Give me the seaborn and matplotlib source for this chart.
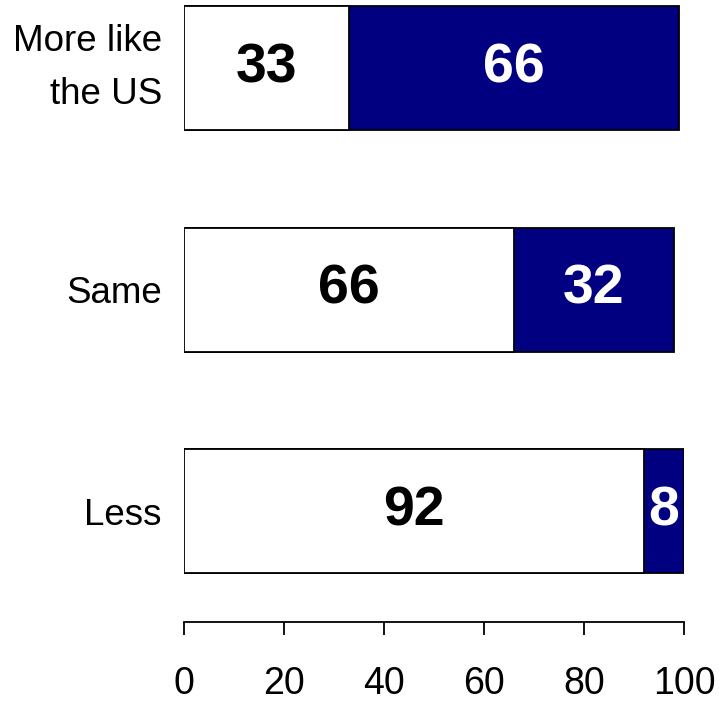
import numpy as np
import pandas as pd
import matplotlib
matplotlib.use("Agg")
import matplotlib.pyplot as plt
from matplotlib import font_manager
import seaborn as sns

categories = ["More like\nthe US", "Same", "Less"]
first_part = [33, 66, 92]
second_part = [66, 32, 8]

sns.set_style("white")
plt.rcParams['font.family'] = ['Liberation Sans', 'DejaVu Sans']
plt.rcParams['text.color'] = 'black'
plt.rcParams['xtick.color'] = 'black'
plt.rcParams['ytick.color'] = 'black'

# find the regular (not narrow) bold file
bold_file = None
for f in font_manager.findSystemFonts():
    if f.endswith("LiberationSans-Bold.ttf"):
        bold_file = f
if bold_file:
    bold_font = font_manager.FontProperties(fname=bold_file, size=40)
else:
    bold_font = font_manager.FontProperties(family="Liberation Sans", weight="bold", size=40)

df = pd.DataFrame({"group": categories, "first": first_part, "second": second_part})
df["total"] = df["first"] + df["second"]

fig = plt.figure(figsize=(7.19, 7.03), dpi=100)
ax = fig.add_axes([184 / 719, 1 - 622 / 703, 500 / 719, 622 / 703])

# navy full bar, white first part drawn over it
sns.barplot(data=df, y="group", x="total", color="#000080", width=0.56,
            edgecolor="black", linewidth=1.3, saturation=1, ax=ax)
sns.barplot(data=df, y="group", x="first", color="white", width=0.56,
            edgecolor="black", linewidth=1.3, saturation=1, ax=ax)

for i, row in df.iterrows():
    ax.text(row["first"] / 2, i, str(row["first"]), ha="center", va="center",
            fontproperties=bold_font, color="black")
    ax.text(row["first"] + row["second"] / 2, i, str(row["second"]), ha="center",
            va="center", fontproperties=bold_font, color="white")

ax.set_xlim(0, 100)
ax.set_ylim(2.5, -0.307)
ax.set_xticks([0, 20, 40, 60, 80, 100])
ax.set_xlabel("")
ax.set_ylabel("")
ax.tick_params(axis="x", labelsize=27, length=9, width=1.3, pad=23, direction="out", bottom=True)
ax.tick_params(axis="y", labelsize=26.5, length=0, pad=16)
for lab in ax.get_yticklabels():
    if "\n" in lab.get_text():
        lab.set_linespacing(1.7)
        lab.set_va("center")

for s in ["top", "right", "left"]:
    ax.spines[s].set_visible(False)
ax.spines["bottom"].set_linewidth(1.3)
ax.spines["bottom"].set_color("black")

fig.savefig("out.png", dpi=100)
